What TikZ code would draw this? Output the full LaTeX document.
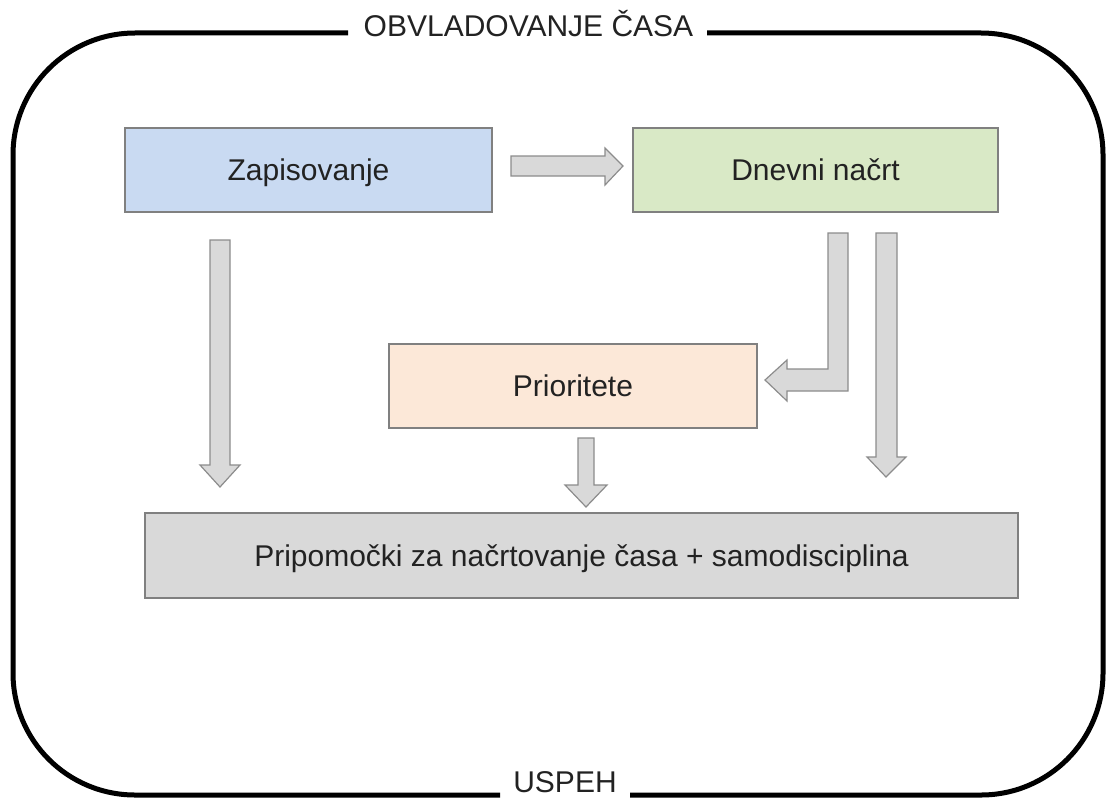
\documentclass[tikz,border=0pt]{standalone}
\usepackage{fontspec}
\setmainfont{Liberation Sans}
\begin{document}
\begin{tikzpicture}[x=1pt,y=-1pt,
  box/.style={draw=boxline, line width=1.2pt, minimum height=84pt, inner sep=0pt,
    text=textgray, font=\fontsize{30}{34}\selectfont,
    text height=21.5pt, text depth=0pt},
  blockarrow/.style={draw=arrowline, fill=arrowfill, line width=1.2pt, line join=miter},
  frame/.style={line width=5pt, rounded corners=122pt},
  label/.style={text=textgray, font=\fontsize{30}{34}\selectfont, inner sep=0pt,
    text height=21.5pt, text depth=0pt}]
\definecolor{boxline}{RGB}{128,128,128}
\definecolor{arrowline}{RGB}{140,140,140}
\definecolor{arrowfill}{RGB}{217,217,217}
\definecolor{textgray}{RGB}{34,34,34}
\definecolor{bluefill}{RGB}{201,218,242}
\definecolor{greenfill}{RGB}{217,233,198}
\definecolor{orangefill}{RGB}{252,232,216}
\definecolor{grayfill}{RGB}{217,217,217}

\useasboundingbox (0,0) rectangle (1107,800);

% outer frame, open where the two labels sit
\draw[frame] (348,33) -- (13,33) -- (13,795) -- (500,795);
\draw[frame] (630,795) -- (1103,795) -- (1103,33) -- (707,33);
\node[label] (title) at (528.5,25.5) {OBVLADOVANJE ČASA};
\node[label] (result) at (565,781.5) {USPEH};

% boxes
\node[box, fill=bluefill, minimum width=367pt] (zap) at (308.5,170) {Zapisovanje};
\node[box, fill=greenfill, minimum width=365pt] (dn) at (815.5,170) {Dnevni načrt};
\node[box, fill=orangefill, minimum width=368pt] (prio) at (573,386) {Prioritete};
\node[box, fill=grayfill, minimum width=873pt, minimum height=85pt] (tools) at (581.5,555.5)
  {Pripomočki za načrtovanje časa + samodisciplina};

% block arrows
\draw[blockarrow] (511,156) -- (605,156) -- (605,148) -- (623,166) -- (605,185)
  -- (605,176) -- (511,176) -- cycle;
\draw[blockarrow] (210,240) -- (230,240) -- (230,465) -- (240,465) -- (220,487)
  -- (200,465) -- (210,465) -- cycle;
\draw[blockarrow] (578,438) -- (594,438) -- (594,485) -- (607,485) -- (586,507)
  -- (565,485) -- (578,485) -- cycle;
\draw[blockarrow] (828,233) -- (848,233) -- (848,391) -- (787,391) -- (787,401)
  -- (765,380) -- (787,360) -- (787,369) -- (828,369) -- cycle;
\draw[blockarrow] (876,233) -- (897,233) -- (897,457) -- (906,457) -- (886,477)
  -- (867,457) -- (876,457) -- cycle;
\end{tikzpicture}
\end{document}
